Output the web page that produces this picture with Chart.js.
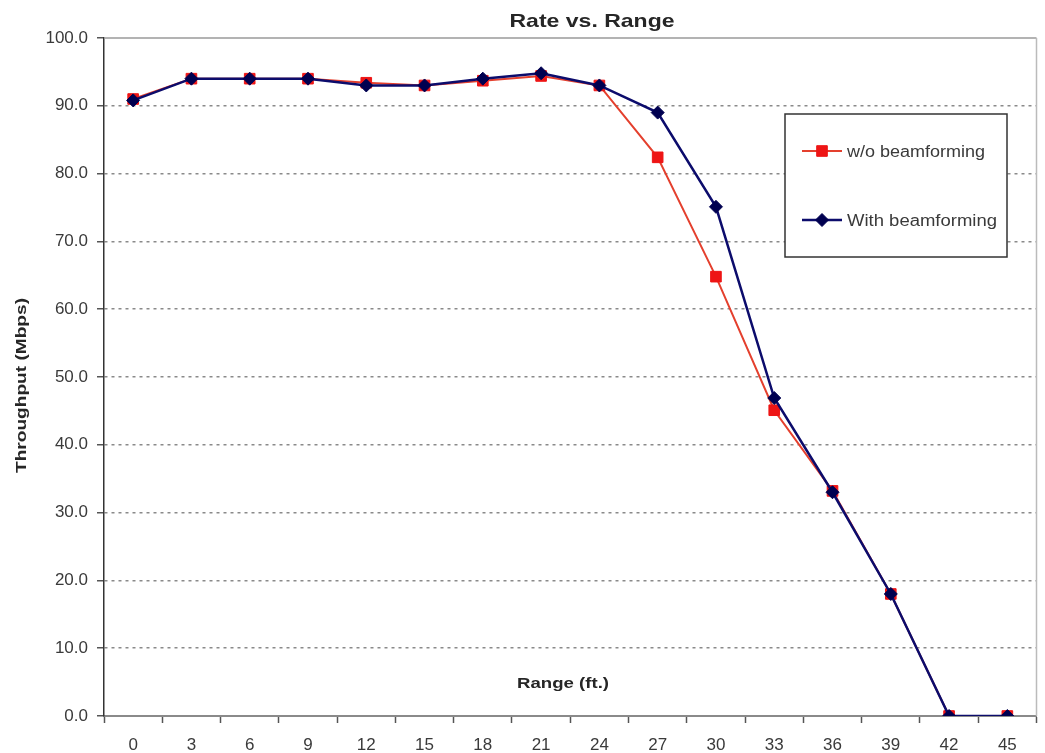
<!DOCTYPE html>
<html><head><meta charset="utf-8">
<script src="https://cdn.jsdelivr.net/npm/chart.js@4"></script>
<style>html,body{margin:0;padding:0;background:#fff}#wrap{width:1045px;height:753px}</style>
</head><body><div id="wrap"><canvas id="c" width="1045" height="753"></canvas></div>
<script>
const rangeLabels = ['0','3','6','9','12','15','18','21','24','27','30','33','36','39','42','45'];
const withoutBeamforming = [91.0, 94.0, 94.0, 94.0, 93.4, 93.0, 93.7, 94.4, 93.0, 82.4, 64.8, 45.1, 33.2, 18.0, 0, 0];
const withBeamforming = [90.8, 94.0, 94.0, 94.0, 93.0, 93.0, 94.0, 94.8, 93.0, 89.0, 75.1, 46.9, 33.0, 18.0, 0, 0];
const yMin = 0, yMax = 100, yStep = 10;
const seriesNames = ['w/o beamforming', 'With beamforming'];
const titleText = 'Rate vs. Range';
const xTitle = 'Range (ft.)';
const yTitle = 'Throughput (Mbps)';

const FONT = '"Liberation Sans", Arial, sans-serif';

function drawFit(ctx, text, x, y, font, w, align) {
  ctx.font = font;
  const m = ctx.measureText(text).width;
  const sx = w / m;
  ctx.save();
  ctx.translate(x, y);
  ctx.scale(sx, 1);
  ctx.textAlign = align || 'center';
  ctx.textBaseline = 'alphabetic';
  ctx.fillText(text, 0, 0);
  ctx.restore();
}

const deco = {
  id: 'deco',
  beforeDatasetsDraw(chart) {
    const ctx = chart.ctx, a = chart.chartArea;
    ctx.save();
    ctx.strokeStyle = '#9a9a9a'; ctx.lineWidth = 1.5;
    ctx.beginPath(); ctx.moveTo(a.left, a.top); ctx.lineTo(a.right, a.top); ctx.stroke();
    ctx.strokeStyle = '#bbbbbb';
    ctx.beginPath(); ctx.moveTo(a.right, a.top); ctx.lineTo(a.right, a.bottom); ctx.stroke();
    ctx.restore();
  },
  afterDraw(chart) {
    const ctx = chart.ctx;
    ctx.save();
    ctx.fillStyle = '#262626';
    drawFit(ctx, titleText, 592, 27, 'bold 19px ' + FONT, 165, 'center');
    drawFit(ctx, xTitle, 563, 688, 'bold 15px ' + FONT, 92, 'center');
    ctx.save();
    ctx.translate(26, 385.5);
    ctx.rotate(-Math.PI / 2);
    drawFit(ctx, yTitle, 0, 0, 'bold 14px ' + FONT, 175, 'center');
    ctx.restore();

    // legend
    ctx.fillStyle = '#fff';
    ctx.fillRect(785, 114, 222, 143);
    ctx.strokeStyle = '#333'; ctx.lineWidth = 1.5;
    ctx.strokeRect(785, 114, 222, 143);
    const rows = [151, 220];
    chart.data.datasets.forEach((ds, i) => {
      const y = rows[i];
      ctx.strokeStyle = ds.borderColor; ctx.lineWidth = ds.borderWidth;
      ctx.beginPath(); ctx.moveTo(802, y); ctx.lineTo(842, y); ctx.stroke();
      ctx.fillStyle = ds.pointBackgroundColor; ctx.strokeStyle = ds.pointBorderColor; ctx.lineWidth = 1;
      Chart.helpers.drawPoint(ctx, {pointStyle: ds.pointStyle, radius: ds.pointRadius, borderWidth: 1, rotation: 0}, 822, y);
      ctx.fillStyle = '#3a3a3a';
      drawFit(ctx, ds.label, 847, y + 6, '16px ' + FONT, i === 0 ? 138 : 150, 'left');
    });
    ctx.restore();
  }
};

new Chart(document.getElementById('c'), {
  type: 'line',
  data: {
    labels: rangeLabels,
    datasets: [
      {label: seriesNames[0], data: withoutBeamforming, borderColor: '#e4402e', borderWidth: 2,
       pointStyle: 'rect', pointRadius: 7.5, pointBackgroundColor: '#ee1515', pointBorderColor: '#ee1515',
       pointBorderWidth: 1, tension: 0, order: 2},
      {label: seriesNames[1], data: withBeamforming, borderColor: '#0c0c6c', borderWidth: 2.5,
       pointStyle: 'rectRot', pointRadius: 6.5, pointBackgroundColor: '#000050', pointBorderColor: '#000050',
       pointBorderWidth: 1, tension: 0, order: 1}
    ]
  },
  options: {
    responsive: false, animation: false,
    layout: {padding: {top: 38, right: 7, left: 0, bottom: 0}},
    plugins: {legend: {display: false}, title: {display: false}, tooltip: {enabled: false}},
    scales: {
      x: {
        offset: true,
        grid: {offset: true, drawOnChartArea: false, drawTicks: true, tickLength: 7, tickColor: '#555', tickWidth: 1.5},
        border: {color: '#8a8a8a', width: 2},
        ticks: {color: '#3a3a3a', font: {family: FONT, size: 17}, padding: 12, maxRotation: 0, autoSkip: false},
        afterFit(s) { s.height = 37; }
      },
      y: {
        min: yMin, max: yMax,
        ticks: {stepSize: yStep, callback: v => Number(v).toFixed(1), color: '#3a3a3a', font: {family: FONT, size: 17}, padding: 9},
        grid: {
          color: c => (c.tick && (c.tick.value === yMin || c.tick.value === yMax)) ? 'rgba(0,0,0,0)' : '#8a8a8a',
          lineWidth: 1.5, tickLength: 7, tickColor: '#555', tickWidth: 1.5, tickBorderDash: []
        },
        border: {color: '#333', width: 1.5, dash: [3, 4]},
        afterFit(s) { s.width = 104; }
      }
    }
  },
  plugins: [deco]
});
</script>
</body></html>
